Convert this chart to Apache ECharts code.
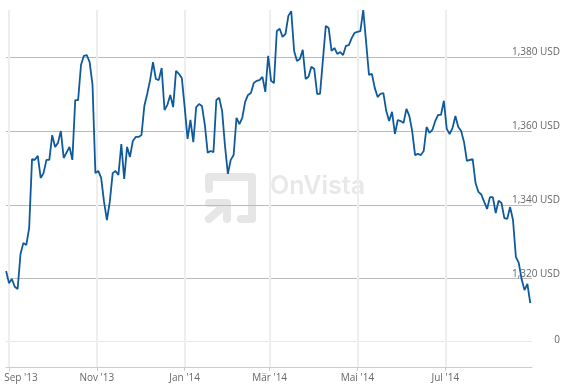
<!DOCTYPE html>
<html>
<head>
<meta charset="utf-8">
<style>
html, body { margin: 0; padding: 0; background: #fff; }
#chart { width: 571px; height: 391px; }
</style>
<script src="https://cdn.jsdelivr.net/npm/echarts@6/dist/echarts.min.js"></script>
</head>
<body>
<div id="chart"></div>
<script>
// days after 1 Sep 2013
var days = [
  -2, 0, 2, 4, 6, 8, 10, 12, 14, 16,
  18, 20, 22, 24, 26, 28, 30, 32, 34, 36,
  38, 42, 44, 46, 48, 50, 52, 54, 56, 58,
  60, 62, 64, 66, 68, 70, 72, 74, 76, 78,
  80, 82, 84, 86, 88, 90, 92, 94, 96, 98,
  100, 102, 104, 106, 108, 110, 112, 114, 116, 118,
  120, 122, 124, 126, 128, 130, 132, 134, 136, 138,
  140, 142, 144, 146, 148, 150, 152, 154, 156, 158,
  160, 162, 164, 166, 168, 170, 172, 174, 176, 178,
  180, 182, 184, 186, 188, 190, 192, 194, 196, 198,
  200, 202, 204, 206, 208, 210, 212, 214, 216, 218,
  220, 222, 224, 226, 228, 230, 232, 234, 236, 238,
  240, 242, 244, 246, 248, 250, 252, 254, 256, 258,
  260, 262, 264, 266, 268, 270, 272, 274, 276, 278,
  280, 282, 284, 286, 288, 290, 292, 294, 296, 298,
  300, 302, 304, 306, 308, 310, 312, 314, 316, 318,
  320, 322, 324, 326, 328, 330, 332, 334, 336, 338,
  340, 342, 344, 346, 348, 350, 352, 354, 356, 358,
  360, 362
];
var prices = [
  1322.1, 1318.8, 1319.9, 1317.8, 1317.2, 1326.7, 1329.7, 1329.1, 1333.7, 1352.4,
  1352.2, 1353.3, 1347.3, 1348.6, 1352.2, 1352.2, 1358.9, 1355.7, 1356.8, 1360,
  1352.7, 1355.7, 1352.2, 1368.4, 1368.4, 1377.9, 1380.4, 1380.6, 1378.7, 1372.5,
  1348.6, 1349.2, 1347.3, 1340.8, 1335.9, 1340.8, 1348.6, 1349.2, 1348.1, 1356.5,
  1347, 1355.7, 1353, 1357.3, 1358.4, 1358.4, 1358.9, 1366.8, 1370.1, 1373.8,
  1378.7, 1374.1, 1373.8, 1377.1, 1365.7, 1367.1, 1369.8, 1366.5, 1376.3, 1375.5,
  1374.4, 1366.5, 1357.9, 1363, 1357, 1366.5, 1367.3, 1366.8, 1361.7, 1354.1,
  1354.6, 1354.3, 1368.4, 1369, 1365.4, 1356, 1348.4, 1352.2, 1353.5, 1363.6,
  1361.9, 1363.6, 1367.9, 1369.8, 1370.3, 1373, 1373.6, 1373.8, 1374.7, 1370.6,
  1380.4, 1373.6, 1373, 1387.1, 1387.7, 1385.5, 1386.3, 1391.2, 1392.5, 1381.7,
  1379, 1379.5, 1382, 1374.1, 1374.7, 1377.4, 1376.8, 1370.1, 1370.1, 1379.3,
  1388.5, 1387.9, 1381.7, 1382.5, 1380.9, 1381.4, 1380.6, 1383.1, 1383.3, 1385.2,
  1386.6, 1386.9, 1387.1, 1392.8, 1384.1, 1375.2, 1375.5, 1371.7, 1369.2, 1370.1,
  1370.3, 1365.4, 1362.7, 1365.2, 1359.2, 1363, 1362.7, 1362.2, 1366, 1364.1,
  1360, 1353.5, 1353.8, 1353.5, 1354.6, 1361.1, 1359.5, 1360.3, 1362.7, 1364.4,
  1364.4, 1368.2, 1360.6, 1359.2, 1360.8, 1364.1, 1361.1, 1360, 1357, 1351.9,
  1352.2, 1352.4, 1345.9, 1343.5, 1342.8, 1340.8, 1338.9, 1342.1, 1342.1, 1337.8,
  1341.1, 1340.5, 1336.4, 1336.2, 1339.4, 1335.9, 1325.9, 1324.3, 1319.9, 1316.9,
  1318.6, 1313.4
];
var monthTicks = [0, 61, 122, 181, 242, 303];
var monthLabels = ["Sep '13", "Nov '13", "Jan '14", "Mär '14", "Mai '14", "Jul '14"];
// the lowest line sits where the axis was cut, it is labelled 0
var priceTicks = [1303.1, 1320, 1340, 1360, 1380];
// the 0 label hangs lower against its line than the others
var priceLabelTicks = [1302, 1320, 1340, 1360, 1380];
var priceLabels = ["0", "1,320 USD", "1,340 USD", "1,360 USD", "1,380 USD"];

var points = [];
for (var i = 0; i < days.length; i++) {
    points.push([days[i], prices[i]]);
}

var myChart = echarts.init(document.getElementById('chart'));
var labelFont = '"Open Sans", sans-serif';

var option = {
    animation: false,
    backgroundColor: '#ffffff',
    grid: { left: 6, right: 39, top: 10, bottom: 24 },
    xAxis: {
        type: 'value',
        min: -2.08,
        max: 363.2,
        axisLine: { show: true, onZero: false, lineStyle: { color: '#c0d0e0', width: 1 } },
        axisTick: { show: true, length: 4, customValues: monthTicks, lineStyle: { color: '#c0d0e0' } },
        splitLine: { show: true, lineStyle: { color: '#eeeeee', width: 2 } },
        axisLabel: {
            customValues: monthTicks,
            margin: 6,
            color: '#666666',
            fontFamily: labelFont,
            fontSize: 10,
            formatter: function (value) {
                var label = monthLabels[monthTicks.indexOf(value)];
                return value === 0 ? '{first|' + label + '}' : label;
            },
            rich: {
                first: { color: '#666666', fontFamily: labelFont, fontSize: 10, padding: [0, 0, 0, 24] }
            }
        }
    },
    yAxis: {
        type: 'value',
        position: 'right',
        min: 1296.07,
        max: 1392.8,
        axisLine: { show: false },
        axisTick: { show: false, customValues: priceTicks },
        splitLine: {
            show: true,
            lineStyle: { color: ['#e6e6e6', '#bbbbbb', '#bbbbbb', '#bbbbbb', '#bbbbbb'], width: 1 }
        },
        axisLabel: {
            customValues: priceLabelTicks,
            margin: 28,
            align: 'right',
            verticalAlign: 'bottom',
            color: '#666666',
            fontFamily: labelFont,
            fontSize: 10,
            formatter: function (value) {
                return priceLabels[priceLabelTicks.indexOf(value)];
            }
        }
    },
    graphic: [
        // OnVista logo behind the grid
        {
            type: 'polyline',
            z: -1,
            silent: true,
            shape: { points: [[209, 189], [209, 177], [252, 177], [252, 219], [241, 219]] },
            style: { fill: null, stroke: '#e6e6e6', lineWidth: 8, lineCap: 'round', lineJoin: 'round' }
        },
        {
            type: 'polyline',
            z: -1,
            silent: true,
            shape: { points: [[209, 203], [227, 203], [227, 219]] },
            style: { fill: null, stroke: '#e6e6e6', lineWidth: 8, lineCap: 'round', lineJoin: 'round' }
        },
        {
            type: 'polyline',
            z: -1,
            silent: true,
            shape: { points: [[225, 205], [209, 219]] },
            style: { fill: null, stroke: '#e6e6e6', lineWidth: 8, lineCap: 'round' }
        },
        {
            type: 'text',
            z: -1,
            silent: true,
            x: 270,
            y: 174,
            style: {
                text: 'OnVista',
                fill: '#e8e8e8',
                font: '600 25px Inter, sans-serif'
            }
        }
    ],
    series: [
        {
            type: 'line',
            data: points,
            symbol: 'none',
            clip: false,
            lineStyle: { color: '#0f5a9c', width: 1.8 },
            z: 5
        }
    ]
};

myChart.setOption(option);
</script>
</body>
</html>
